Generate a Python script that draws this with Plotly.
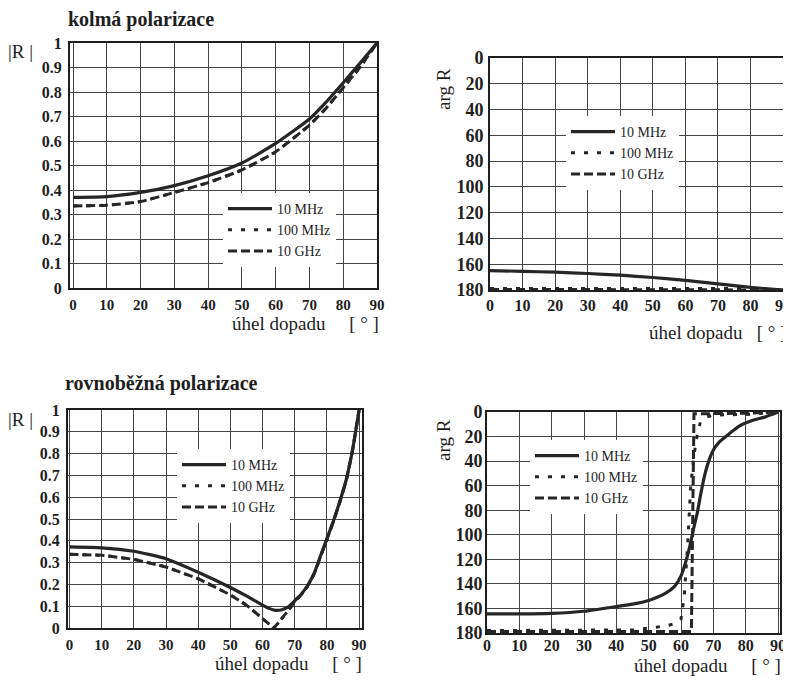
import plotly.graph_objects as go

W, H = 791, 682
PAGE_OFFSET = 8  # the page body margin shifts the figure by this many pixels

# ---------------- data ----------------
series_labels = ["10 MHz", "100 MHz", "10 GHz"]

# kolmá polarizace, |R|
angle_perp_mag = [0, 10, 20, 30, 40, 50, 60, 70, 75, 80, 85, 90]
mag_perp_10MHz = [0.370, 0.373, 0.390, 0.418, 0.458, 0.510, 0.590, 0.690, 0.760, 0.838, 0.918, 1.000]
mag_perp_100MHz = [0.335, 0.338, 0.353, 0.390, 0.430, 0.482, 0.556, 0.665, 0.735, 0.818, 0.902, 1.000]
mag_perp_10GHz = [0.335, 0.338, 0.353, 0.390, 0.430, 0.482, 0.556, 0.665, 0.735, 0.818, 0.902, 1.000]

# kolmá polarizace, arg R
angle_perp_arg = [0, 10, 20, 30, 40, 50, 60, 70, 80, 90]
arg_perp_10MHz = [165.0, 165.5, 166.2, 167.2, 168.5, 170.3, 172.6, 175.3, 178.0, 180.0]
arg_perp_100MHz = [178.8, 178.8, 178.8, 178.8, 178.8, 178.8, 178.8, 178.8, 178.8, 180.0]
arg_perp_10GHz = [179.5, 179.5, 179.5, 179.5, 179.5, 179.5, 179.5, 179.5, 179.5, 180.0]

# rovnoběžná polarizace, |R|
angle_par_mag_10MHz = [0, 10, 20, 30, 40, 50, 55, 60, 62, 64, 66, 68, 70, 72, 74, 76, 78, 80, 82, 84, 86, 88, 90]
mag_par_10MHz = [0.372, 0.368, 0.352, 0.318, 0.256, 0.186, 0.147, 0.105, 0.090, 0.081, 0.084, 0.097,
                 0.125, 0.155, 0.195, 0.250, 0.330, 0.410, 0.490, 0.580, 0.680, 0.820, 1.000]
angle_par_mag_10GHz = [0, 10, 20, 30, 40, 50, 55, 60, 62, 63.5, 65, 67, 69, 70, 72, 74, 76, 78, 80, 82, 84, 86, 88, 90]
mag_par_100MHz = [0.338, 0.334, 0.315, 0.280, 0.226, 0.152, 0.105, 0.045, 0.018, 0.000, 0.025, 0.060, 0.100,
                  0.122, 0.152, 0.192, 0.247, 0.327, 0.407, 0.487, 0.577, 0.677, 0.817, 1.000]
mag_par_10GHz = [0.338, 0.334, 0.315, 0.280, 0.226, 0.152, 0.105, 0.045, 0.018, 0.000, 0.025, 0.060, 0.100,
                 0.122, 0.152, 0.192, 0.247, 0.327, 0.407, 0.487, 0.577, 0.677, 0.817, 1.000]

# rovnoběžná polarizace, arg R
angle_par_arg_10MHz = [0, 10, 20, 30, 40, 45, 50, 55, 58, 60, 62, 63, 64, 65, 66, 67, 68, 70, 72, 75, 78, 82, 86, 90]
arg_par_10MHz = [164.5, 164.5, 164.0, 162.3, 158.5, 156.5, 153.5, 148.0, 142.0, 133.5, 117.0, 106.0,
                 93.5, 82.5, 68.0, 55.0, 44.5, 31.0, 24.0, 17.5, 11.5, 7.0, 4.0, 0.0]
angle_par_arg_100MHz = [0, 10, 20, 30, 40, 45, 50, 55, 58, 60, 61, 62, 63, 64, 65, 66, 68, 70, 80, 90]
arg_par_100MHz = [178.0, 178.0, 178.0, 178.0, 178.0, 177.5, 176.0, 174.5, 172.5, 168.5, 150.0, 110.0,
                  60.0, 35.0, 19.0, 8.0, 4.0, 2.5, 2.0, 0.0]
angle_par_arg_10GHz = [0, 10, 20, 30, 40, 50, 60, 63.2, 64.0, 70, 80, 90]
arg_par_10GHz = [178.8, 178.8, 178.8, 178.8, 178.8, 178.8, 178.8, 178.8, 1.5, 1.5, 1.0, 0.0]

x_ticks = [0, 10, 20, 30, 40, 50, 60, 70, 80, 90]
mag_ticks = [0, 0.1, 0.2, 0.3, 0.4, 0.5, 0.6, 0.7, 0.8, 0.9, 1.0]
mag_tick_labels = ["0", "0.1", "0.2", "0.3", "0.4", "0.5", "0.6", "0.7", "0.8", "0.9", "1"]
arg_ticks = [0, 20, 40, 60, 80, 100, 120, 140, 160, 180]

# ---------------- helpers ----------------
def px(p):
    return (p - PAGE_OFFSET) / W


def py(p):
    return 1 - (p - PAGE_OFFSET) / H


INK = "#1e1e1e"
LINE = "#262626"
SERIF = "Liberation Serif"

styles = [
    dict(color=LINE, width=3.2),
    dict(color=LINE, width=3, dash="4px,9px"),
    dict(color=LINE, width=3, dash="9px,4px"),
]

fig = go.Figure()

panels = [
    ("", "legend", [angle_perp_mag] * 3, [mag_perp_10MHz, mag_perp_100MHz, mag_perp_10GHz],
     ["spline", "spline", "spline"]),
    ("2", "legend2", [angle_perp_arg] * 3, [arg_perp_10MHz, arg_perp_100MHz, arg_perp_10GHz],
     ["spline", "linear", "linear"]),
    ("3", "legend3", [angle_par_mag_10MHz, angle_par_mag_10GHz, angle_par_mag_10GHz],
     [mag_par_10MHz, mag_par_100MHz, mag_par_10GHz], ["spline", "linear", "linear"]),
    ("4", "legend4", [angle_par_arg_10MHz, angle_par_arg_100MHz, angle_par_arg_10GHz],
     [arg_par_10MHz, arg_par_100MHz, arg_par_10GHz], ["spline", "linear", "linear"]),
]

for suf, leg, xs, ys, shapes in panels:
    for i in range(3):
        ln = dict(styles[i])
        ln["shape"] = shapes[i]
        if shapes[i] == "spline":
            ln["smoothing"] = 0.5
        fig.add_trace(go.Scatter(
            x=xs[i], y=ys[i], mode="lines", name=series_labels[i],
            line=ln, xaxis="x" + suf, yaxis="y" + suf, legend=leg,
            showlegend=True, hoverinfo="skip",
        ))


def xax(dom, rng, fs, anchor, standoff):
    return dict(domain=[px(dom[0]), px(dom[1])], range=rng, anchor=anchor, automargin=False,
                tickmode="array", tickvals=x_ticks, ticktext=[str(v) for v in x_ticks],
                showgrid=True, gridcolor="#454545", gridwidth=1, zeroline=False,
                showline=True, linecolor=INK, linewidth=2, mirror=True, ticks="",
                tickfont=dict(family=SERIF, size=fs, color=INK, weight="bold"),
                ticklabelstandoff=standoff)


def yax(dom, rng, vals, texts, fs, anchor, standoff):
    return dict(domain=[py(dom[1]), py(dom[0])], range=rng, anchor=anchor, automargin=False,
                tickmode="array", tickvals=vals, ticktext=texts,
                showgrid=True, gridcolor="#454545", gridwidth=1, zeroline=False,
                showline=True, linecolor=INK, linewidth=2, mirror=True, ticks="",
                tickfont=dict(family=SERIF, size=fs, color=INK, weight="bold"),
                ticklabelstandoff=standoff)


arg_texts = [str(v) for v in arg_ticks]


def legend_cfg(lx, ty):
    return dict(x=px(lx), y=py(ty), xanchor="left", yanchor="top", bgcolor="white",
                borderwidth=0, itemwidth=44, tracegroupgap=0,
                font=dict(family=SERIF, size=14, color=INK))


fig.update_layout(
    width=W, height=H, autosize=False,
    margin=dict(l=0, r=0, t=0, b=0, autoexpand=False),
    paper_bgcolor="white", plot_bgcolor="white",
    xaxis=xax((70, 377), [-0.9, 90], 15, "y", 2),
    yaxis=yax((43, 288), [0, 1], mag_ticks, mag_tick_labels, 16, "x", 3),
    xaxis2=xax((490, 788), [0, 91.5], 16, "y2", 0),
    yaxis2=yax((58, 290), [180, 0], arg_ticks, arg_texts, 18, "x2", 1),
    xaxis3=xax((68, 362), [-0.45, 90.9], 15, "y3", 2),
    yaxis3=yax((410, 628), [0, 1], mag_ticks, mag_tick_labels, 16, "x3", 3),
    xaxis4=xax((487, 780), [0, 90.6], 16, "y4", -3),
    yaxis4=yax((412, 633), [180, 0], arg_ticks, arg_texts, 18, "x4", -1),
    legend=legend_cfg(223, 193),
    legend2=legend_cfg(566, 116),
    legend3=legend_cfg(177, 449),
    legend4=legend_cfg(530, 440),
)

NB = "\u00a0"


def ann(text, x, y, size, xanchor="center", bold=False, angle=0):
    fig.add_annotation(
        text=("<b>" + text + "</b>") if bold else text,
        x=px(x), y=py(y), xref="paper", yref="paper", showarrow=False,
        xanchor=xanchor, yanchor="middle", textangle=angle, borderpad=0,
        font=dict(family=SERIF, size=size, color=INK),
    )


ann("kolmá polarizace", 67, 20, 20, xanchor="left", bold=True)
ann("rovnoběžná polarizace", 64, 384, 20, xanchor="left", bold=True)
ann("|R" + NB + "|", 21, 52, 19)
ann("|R" + NB + "|", 21, 419, 19)
ann("arg R", 443, 89, 19, angle=-90)
ann("arg R", 443, 440, 19, angle=-90)
bracket = "[" + NB + "°" + NB + "]"
ann("úhel dopadu" + NB * 5 + bracket, 380, 323, 19, xanchor="right")
ann("úhel dopadu" + NB * 3 + bracket, 787, 332, 19, xanchor="right")
ann("úhel dopadu" + NB * 5 + bracket, 363, 663, 19, xanchor="right")
ann("úhel dopadu" + NB * 5 + bracket, 782, 665, 19, xanchor="right")

fig.write_html("out.html")
